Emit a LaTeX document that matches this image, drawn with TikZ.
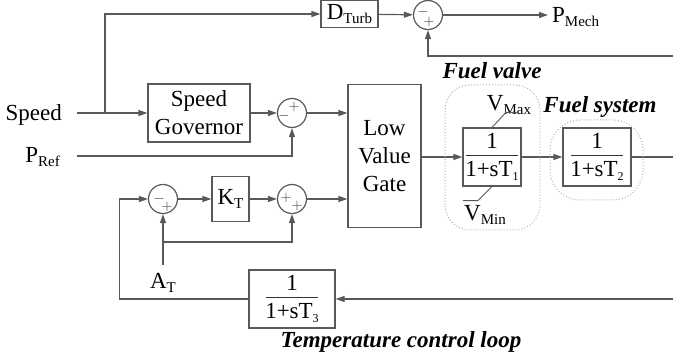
\documentclass[tikz,border=0pt]{standalone}
\usepackage{fontspec}
\setmainfont{Liberation Serif}
\usetikzlibrary{positioning,arrows.meta}
\newcommand{\sub}[1]{\raisebox{-4pt}{\fontsize{15}{15}\selectfont #1}}
\newcommand{\tsub}[1]{\raisebox{-4pt}{\fontsize{12}{12}\selectfont #1}}

\begin{document}
\begin{tikzpicture}[x=1pt,y=1pt,
	font=\fontsize{23}{28}\selectfont,
	blk/.style={draw=black!65,line width=1.2pt,inner sep=0pt,align=center},
	sumj/.style={circle,draw=black!65,line width=1.2pt,minimum size=29pt,inner sep=0pt},
	tf/.style={blk,path picture={\draw[black!80,line width=1pt] ([xshift=-26pt,yshift=1.5pt]path picture bounding box.center) -- ([xshift=26pt,yshift=1.5pt]path picture bounding box.center);}},
	sgn/.style={font=\fontsize{14}{14}\selectfont,inner sep=0pt,text=black!80},
	wire/.style={draw=black!65,line width=1.2pt},
	arr/.style={wire,-{Triangle[length=9pt,width=6pt]}},
	lim/.style={draw=black!65,line width=0.9pt},
	lbl/.style={font=\fontsize{23}{28}\selectfont\bfseries\itshape},
	zone/.style={draw=black!30,dotted,line width=1pt}]

	\useasboundingbox (0,0) rectangle (673,362);

	% Define nodes
	\node[anchor=base east,inner sep=0pt] (spd) at (62,241) {Speed};
	\node[anchor=base east,inner sep=0pt] (pref) at (60,199) {P\sub{Ref}};
	\coordinate (sin) at (77,249);
	\coordinate (pin) at (77,206);
	\coordinate (br) at (105,249);
	\node[blk,minimum width=102pt,minimum height=58pt] (gov) at (199,249) {Speed\\Governor};
	\node[sumj] (sg) at (292,249) {};
	\node[blk,minimum width=57pt,minimum height=27pt] (dturb) at (349.5,348) {D\sub{Turb}};
	\node[sumj] (sm) at (428,347) {};
	\node[anchor=west,inner xsep=4pt,inner ysep=0pt] (pmech) at (548,345) {P\sub{Mech}};
	\coordinate (fbm) at (673,306);
	\node[blk,minimum width=73pt,minimum height=143pt] (lvg) at (384.5,206) {Low\\Value\\Gate};
	\node[tf,minimum width=58pt,minimum height=58pt] (fv) at (492,205) {1\\1+sT\tsub{1}};
	\node[tf,minimum width=68pt,minimum height=58pt] (fs) at (597,205) {1\\1+sT\tsub{2}};
	\coordinate (fout) at (673,205);
	\node (vmax) at (509,257) {V\sub{Max}};
	\node (vmin) at (485,147) {V\sub{Min}};
	\node[lbl] (fvl) at (492,291) {Fuel valve};
	\node[lbl,anchor=base] (fsl) at (600,249) {Fuel system};

	\node[sumj] (st) at (163,163) {};
	\node[blk,minimum width=37pt,minimum height=45pt] (kt) at (230.5,163) {K\sub{T}};
	\node[sumj] (ss) at (292,163) {};
	\node[anchor=base,inner xsep=0pt,inner ysep=8pt] (at) at (163,74) {A\sub{T}};
	\coordinate (abr) at (163,120);
	\node[tf,minimum width=86pt,minimum height=58pt] (tc) at (292,63) {1\\1+sT\tsub{3}};
	\coordinate (fbt) at (673,63);
	\node[lbl,anchor=base] (tcl) at (401,15) {Temperature control loop};

	% Signs of the summing points
	\node[sgn] at ([xshift=-5pt,yshift=3pt]sm.center) {$-$};
	\node[sgn] at ([xshift=1pt,yshift=-7pt]sm.center) {$+$};
	\node[sgn] at ([xshift=2pt,yshift=6pt]sg.center) {$+$};
	\node[sgn] at ([xshift=-8pt,yshift=-3pt]sg.center) {$-$};
	\node[sgn] at ([xshift=-4pt,yshift=0pt]st.center) {$-$};
	\node[sgn] at ([xshift=4pt,yshift=-8pt]st.center) {$+$};
	\node[sgn] at ([xshift=-6pt,yshift=1pt]ss.center) {$+$};
	\node[sgn] at ([xshift=5pt,yshift=-7pt]ss.center) {$+$};

	% Connect the nodes
	\draw[arr] (sin) -- (gov) ; %
	\draw[arr] (br) |- (dturb) ; %
	\draw[arr] (gov) -- (sg) ; %
	\draw[arr] (pin) -| (sg) ; %
	\draw[arr] (dturb) -- (sm) ; %
	\draw[arr] (sm) -- (sm -| pmech.west) ; %
	\draw[arr] (fbm) -| (sm) ; %
	\draw[arr] (sg) -- (sg -| lvg.west) ; %
	\draw[arr] (ss) -- (ss -| lvg.west) ; %
	\draw[arr] (lvg.east |- fv) -- (fv) ; %
	\draw[arr] (fv) -- (fs) ; %
	\draw[wire] (fs) -- (fout) ; %
	\draw[lim] (fv.north) -- ++(14,15) -- ++(12,0) ; %
	\draw[lim] (fv.south) -- ++(-14,-14) -- ++(-15,0) ; %
	\draw[arr] (at) -- (st) ; %
	\draw[arr] (abr) -| (ss) ; %
	\draw[arr] (st) -- (kt) ; %
	\draw[arr] (kt) -- (ss) ; %
	\draw[arr] (fbt) -- (tc) ; %
	\draw[arr] (tc.west) -| ([xshift=-28.5pt]st.west) -- (st) ; %

	% Dotted frames
	\draw[zone,rounded corners=25pt] (445,132) rectangle (540,277);
	\draw[zone,rounded corners=30pt] (550,162) rectangle (643,242);
\end{tikzpicture}
\end{document}
